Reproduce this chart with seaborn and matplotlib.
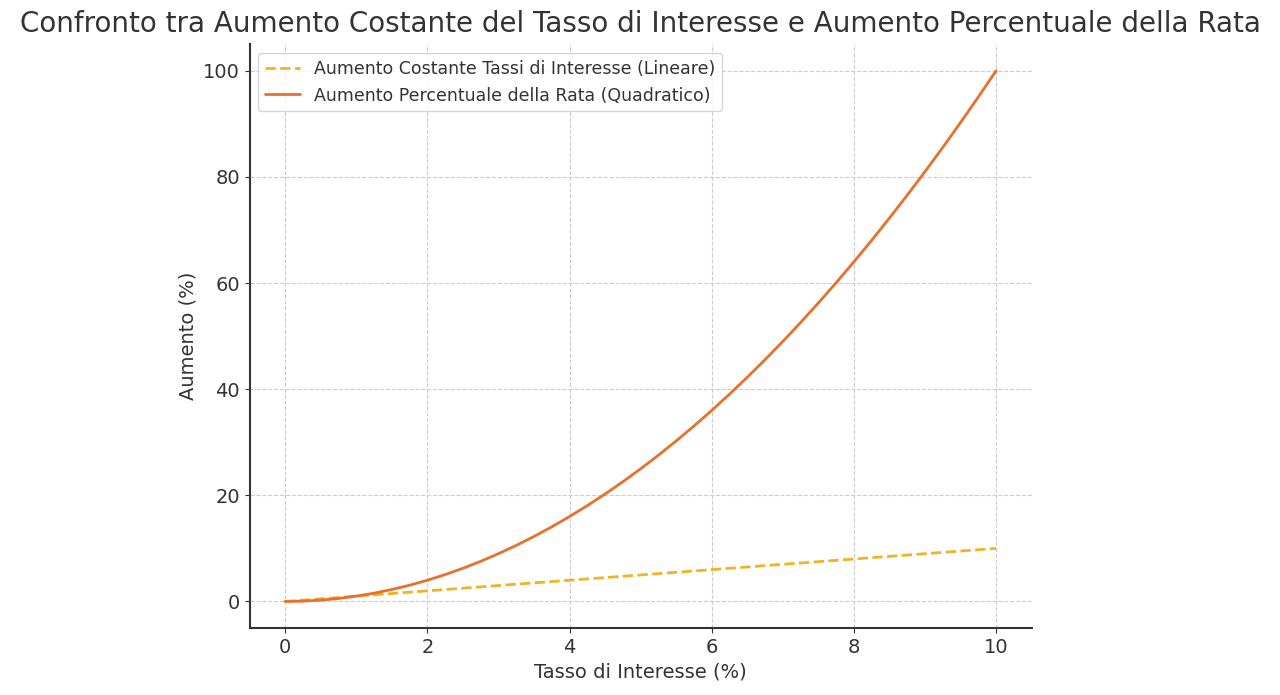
import numpy as np
import pandas as pd
import seaborn as sns
import matplotlib.pyplot as plt

# Values
tasso = [0, 0.25, 0.5, 0.75, 1, 1.25, 1.5, 1.75, 2, 2.25, 2.5, 2.75, 3, 3.25, 3.5, 3.75,
         4, 4.25, 4.5, 4.75, 5, 5.25, 5.5, 5.75, 6, 6.25, 6.5, 6.75, 7, 7.25, 7.5, 7.75,
         8, 8.25, 8.5, 8.75, 9, 9.25, 9.5, 9.75, 10]
aumento_lineare = [0, 0.25, 0.5, 0.75, 1, 1.25, 1.5, 1.75, 2, 2.25, 2.5, 2.75, 3, 3.25, 3.5, 3.75,
                   4, 4.25, 4.5, 4.75, 5, 5.25, 5.5, 5.75, 6, 6.25, 6.5, 6.75, 7, 7.25, 7.5, 7.75,
                   8, 8.25, 8.5, 8.75, 9, 9.25, 9.5, 9.75, 10]
aumento_quadratico = [0, 0.06, 0.25, 0.56, 1, 1.56, 2.25, 3.06, 4, 5.06, 6.25, 7.56, 9, 10.56,
                      12.25, 14.06, 16, 18.06, 20.25, 22.56, 25, 27.56, 30.25, 33.06, 36, 39.06,
                      42.25, 45.56, 49, 52.56, 56.25, 60.06, 64, 68.06, 72.25, 76.56, 81, 85.56,
                      90.25, 95.06, 100]

label_lin = 'Aumento Costante Tassi di Interesse (Lineare)'
label_quad = 'Aumento Percentuale della Rata (Quadratico)'

sns.set_style('ticks')
plt.rcParams['font.family'] = ['DejaVu Sans']

fig = plt.figure(figsize=(12.8, 6.95), dpi=100)
ax = fig.add_axes([0.195, 0.0964, 0.611, 0.84])

sns.lineplot(x=tasso, y=aumento_lineare, ax=ax, color='#f0b323', linestyle='--',
             linewidth=2, label=label_lin)
sns.lineplot(x=tasso, y=aumento_quadratico, ax=ax, color='#e8702a', linewidth=2,
             label=label_quad)

ax.set_xlim(-0.5, 10.5)
ax.set_ylim(-5, 105)
ax.set_xticks([0, 2, 4, 6, 8, 10])
ax.set_yticks([0, 20, 40, 60, 80, 100])
ax.grid(True, linestyle='--', color='#cccccc', linewidth=0.8)
sns.despine(ax=ax)
ax.tick_params(labelsize=14, colors='#333333')
for s in ax.spines.values():
    s.set_linewidth(1.5)
    s.set_color('#333333')

ax.set_xlabel('Tasso di Interesse (%)', fontsize=14, color='#333333')
ax.set_ylabel('Aumento (%)', fontsize=14, color='#333333')
fig.suptitle('Confronto tra Aumento Costante del Tasso di Interesse e Aumento Percentuale della Rata',
             fontsize=20, color='#333333', y=0.985)

leg = ax.legend(loc='upper left', fontsize=12.5, frameon=True)
for t in leg.get_texts():
    t.set_color('#333333')

fig.savefig('out.png', dpi=100)
